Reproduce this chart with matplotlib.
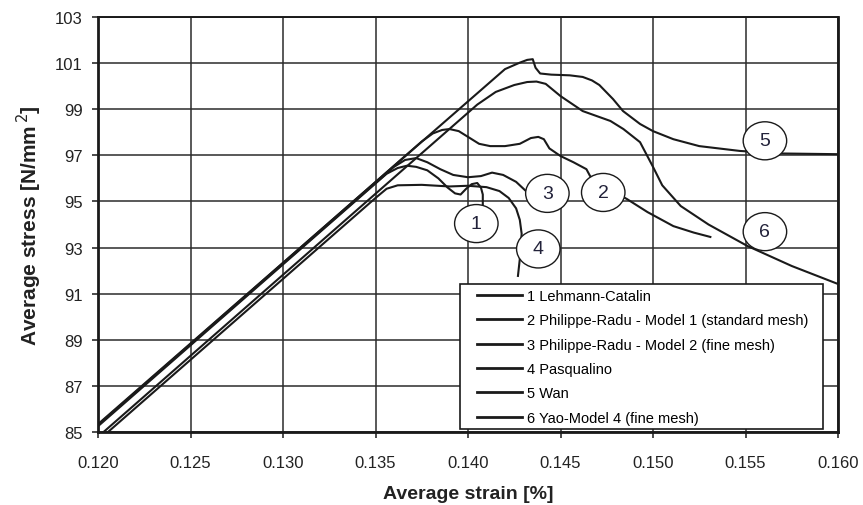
import matplotlib
matplotlib.use("Agg")
import matplotlib.pyplot as plt
from matplotlib.patches import Ellipse, Rectangle

plt.rcParams['font.family'] = ['Liberation Sans', 'DejaVu Sans']

# ---- data: average strain [%] vs average stress [N/mm^2] ----
s1 = [0.1200, 0.1356, 0.1362, 0.1367, 0.1372, 0.1378, 0.1384, 0.1389, 0.1393, 0.1396, 0.1399,
      0.1402, 0.1405, 0.1407, 0.1408, 0.1408]
v1 = [85.25, 96.20, 96.45, 96.55, 96.50, 96.35, 96.00, 95.60, 95.35, 95.30, 95.55,
      95.75, 95.80, 95.60, 95.30, 94.80]

s2 = [0.1200, 0.1375, 0.1381, 0.1386, 0.1390, 0.1395, 0.1400, 0.1406, 0.1412, 0.1420, 0.1428, 0.1434,
      0.1438, 0.1441, 0.1444, 0.1450, 0.1457, 0.1464, 0.1466, 0.1475, 0.1486, 0.1497, 0.1511, 0.1522, 0.1531]
v2 = [85.30, 97.60, 97.95, 98.10, 98.14, 98.05, 97.80, 97.50, 97.40, 97.40, 97.50, 97.75,
      97.80, 97.70, 97.30, 96.97, 96.70, 96.40, 96.10, 95.60, 95.10, 94.54, 93.93, 93.65, 93.46]

s3 = [0.1200, 0.1360, 0.1366, 0.1372, 0.1378, 0.1385, 0.1392, 0.1400, 0.1407, 0.1413, 0.1419,
      0.1426, 0.1432, 0.1436]
v3 = [85.30, 96.50, 96.80, 96.88, 96.70, 96.40, 96.15, 96.05, 96.10, 96.25, 96.15,
      95.85, 95.40, 95.20]

s4 = [0.12054, 0.1350, 0.1356, 0.1362, 0.1375, 0.1390, 0.1400, 0.1410, 0.1417, 0.1422, 0.1426,
      0.1428, 0.1429, 0.1428, 0.1427]
v4 = [85.00, 95.15, 95.55, 95.70, 95.72, 95.65, 95.68, 95.62, 95.45, 95.15, 94.70,
      94.20, 93.60, 92.50, 91.77]

s5 = [0.1200, 0.1420, 0.1428, 0.1432, 0.1435, 0.14365, 0.1439, 0.1445, 0.1455, 0.1462, 0.1467, 0.1471,
      0.14784, 0.14838, 0.1493, 0.1500, 0.1511, 0.1525, 0.1547, 0.1570, 0.1600]
v5 = [85.34, 100.74, 101.02, 101.14, 101.17, 100.80, 100.55, 100.50, 100.47, 100.40, 100.25, 100.05,
      99.44, 98.92, 98.36, 98.05, 97.70, 97.40, 97.19, 97.08, 97.05]

s6 = [0.1203, 0.1405, 0.1415, 0.1425, 0.1432, 0.1437, 0.1442, 0.1450, 0.1462, 0.1477, 0.1484, 0.1493,
      0.1500, 0.1505, 0.1515, 0.1530, 0.1551, 0.1575, 0.1600]
v6 = [85.00, 99.20, 99.75, 100.05, 100.18, 100.20, 100.10, 99.57, 98.92, 98.49, 98.14, 97.57,
      96.50, 95.70, 94.80, 94.00, 93.07, 92.20, 91.42]

series_labels = ["1 Lehmann-Catalin",
                 "2 Philippe-Radu - Model 1 (standard mesh)",
                 "3 Philippe-Radu - Model 2 (fine mesh)",
                 "4 Pasqualino",
                 "5 Wan",
                 "6 Yao-Model 4 (fine mesh)"]

# circled curve numbers: (strain, stress)
tag_text = ["1", "2", "3", "4", "5", "6"]
tag_x = [0.14045, 0.14731, 0.14429, 0.14380, 0.15605, 0.15605]
tag_y = [94.04, 95.39, 95.35, 92.94, 97.63, 93.69]

x_ticks = [0.120, 0.125, 0.130, 0.135, 0.140, 0.145, 0.150, 0.155, 0.160]
y_ticks = [85, 87, 89, 91, 93, 95, 97, 99, 101, 103]

# ---- figure ----
W, H = 863, 506
fig = plt.figure(figsize=(W / 100, H / 100), dpi=100)
ax = fig.add_axes([98 / W, 1 - 433 / H, 740 / W, 415 / H])

ax.set_xlim(0.120, 0.160)
ax.set_ylim(85, 103)
ax.set_xticks(x_ticks)
ax.set_xticklabels([f"{t:.3f}" for t in x_ticks])
ax.set_yticks(y_ticks)
ax.grid(True, color="#2b2b2b", linewidth=1.1)
ax.set_axisbelow(True)

for sp in ax.spines.values():
    sp.set_linewidth(2.0)
    sp.set_color("#1a1a1a")
ax.spines["top"].set_linewidth(1.4)

ax.tick_params(axis="both", direction="out", length=4.5, width=1.1, colors="#1a1a1a",
               labelsize=12, labelcolor="#222222")
ax.tick_params(axis="x", pad=12)
ax.tick_params(axis="y", pad=6.5)

lw = 1.5
for s, v, lab in zip([s1, s2, s3, s4, s5, s6], [v1, v2, v3, v4, v5, v6], series_labels):
    ax.plot(s, v, color="#1a1a1a", linewidth=lw, label=lab, zorder=3)

for t, x, y in zip(tag_text, tag_x, tag_y):
    ax.add_patch(Ellipse((x, y), 0.00235, 1.65, facecolor="white", edgecolor="#1a1a1a",
                         linewidth=1.0, zorder=4))
    ax.text(x, y, t, ha="center", va="center", fontsize=14, color="#22223a", zorder=5)

ax.set_xlabel("Average strain [%]", fontsize=14, fontweight="bold", labelpad=11, color="#222222")
ax.set_ylabel("Average stress [N/mm$^{\\,2}$]", fontsize=15, fontweight="bold", labelpad=8,
              color="#222222")

# legend box: white panel with a plain black border
box = Rectangle((460 / W, 1 - 430 / H), 363 / W, 145 / H, transform=fig.transFigure,
                facecolor="white", edgecolor="#1a1a1a", linewidth=1.2, zorder=6, clip_on=False)
ax.add_artist(box)
leg = ax.legend(loc="upper left", bbox_to_anchor=(477 / W, 1 - 290 / H),
                bbox_transform=fig.transFigure, borderaxespad=0, borderpad=0, fontsize=10.5,
                frameon=False, handlelength=3.1, handletextpad=0.3, labelspacing=0.71)
for h in leg.legend_handles:
    h.set_linewidth(2.0)
leg.set_zorder(7)

fig.savefig("out.png", dpi=100)
